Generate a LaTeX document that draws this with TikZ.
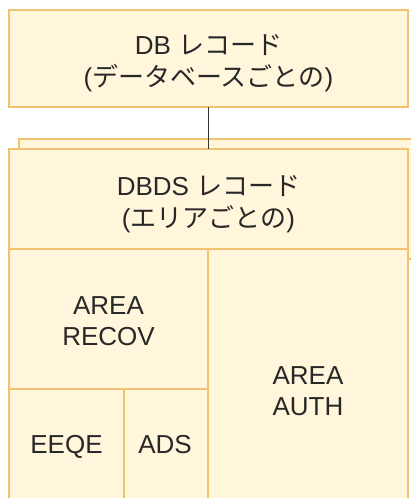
\documentclass[tikz,border=0pt]{standalone}
\usepackage{fontspec}
\setmainfont{Liberation Sans}
\newfontfamily\jp{Noto Sans CJK JP}
\definecolor{boxfill}{RGB}{255,246,220}
\definecolor{boxline}{RGB}{241,194,112}
\definecolor{txt}{RGB}{40,40,40}
\begin{document}
\begin{tikzpicture}[x=1pt,y=-1pt,
  cell/.style={draw=boxline, fill=boxfill, line width=1.4pt, inner sep=0pt, outer sep=0pt, anchor=north west},
  lbl/.style={font=\fontsize{26}{31}\selectfont, align=center, text=txt, inner sep=0pt}]
\useasboundingbox (0,0) rectangle (411,498);
\clip (0,0) rectangle (411,498);
% top box
\node[cell, minimum width=399pt, minimum height=97pt] (db) at (9,10) {};
\node[lbl, anchor=base] (dbt1) at (208.5,54) {DB {\jp レコード}};
\node[lbl, anchor=base] (dbt2) at (208.5,86) {({\jp データベースごとの})};
% back sheet
\node[cell, minimum width=420pt, minimum height=120pt] (back) at (19,139) {};
% front header
\node[cell, minimum width=399pt, minimum height=100pt] (dbds) at (9,149) {};
\node[lbl, anchor=base] (dbdst1) at (208.5,195) {DBDS {\jp レコード}};
\node[lbl, anchor=base] (dbdst2) at (208.5,227) {({\jp エリアごとの})};
% cells
\node[cell, minimum width=199pt, minimum height=140pt] (recov) at (9,249) {};
\node[cell, minimum width=200pt, minimum height=300pt] (auth) at (208,249) {};
\node[cell, minimum width=115pt, minimum height=200pt] (eeqe) at (9,389) {};
\node[cell, minimum width=84pt, minimum height=200pt] (ads) at (124,389) {};
\node[lbl, anchor=base] (recovt1) at (108.5,314) {AREA};
\node[lbl, anchor=base] (recovt2) at (108.5,345) {RECOV};
\node[lbl, anchor=base] (autht1) at (308,384) {AREA};
\node[lbl, anchor=base] (autht2) at (308,415) {AUTH};
\node[lbl, anchor=base] (eeqet) at (66.5,453) {EEQE};
\node[lbl, anchor=base] (adst) at (165,453) {ADS};
% connector
\draw[black!80, line width=0.9pt] (db.south) -- (dbds.north);
\end{tikzpicture}
\end{document}
